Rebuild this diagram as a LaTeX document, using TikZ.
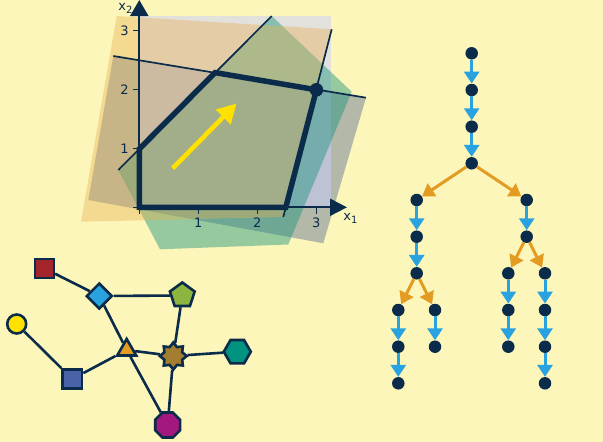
\documentclass[tikz,border=0pt]{standalone}
\usepackage{fontspec}
\setmainfont{DejaVu Sans}
\usetikzlibrary{arrows.meta,shapes.geometric}
\definecolor{bgc}{RGB}{253,246,186}
\definecolor{navy}{RGB}{11,43,74}
\definecolor{lblue}{RGB}{41,163,224}
\definecolor{orng}{RGB}{227,155,34}
\definecolor{yel}{RGB}{255,225,0}
\definecolor{gfill}{RGB}{200,205,255}
\definecolor{ofill}{RGB}{232,176,82}
\definecolor{grfill}{RGB}{30,150,125}
\definecolor{dfill}{RGB}{91,110,150}
\definecolor{cred}{RGB}{163,36,43}
\definecolor{cgreen}{RGB}{139,181,63}
\definecolor{cbrown}{RGB}{163,126,48}
\definecolor{cteal}{RGB}{0,148,128}
\definecolor{cslate}{RGB}{74,98,168}
\definecolor{cmag}{RGB}{162,24,126}
\tikzset{
  gnode/.style={draw=navy, line width=2.6pt, inner sep=0pt},
  gedge/.style={navy, line width=2.6pt},
  tnode/.style={circle, fill=navy, minimum size=12.5pt, inner sep=0pt},
  barrow/.style={lblue, line width=3pt, -{Triangle[length=12pt,width=15pt]}},
  oarrow/.style={orng, line width=3pt, -{Triangle[length=12pt,width=15pt]}},
  thin/.style={navy, line width=1.7pt},
  lbl/.style={text=navy, font=\fontsize{13}{13}\selectfont, inner sep=0pt},
}
\newcommand{\axlbl}[1]{x\raisebox{-3pt}{\fontsize{10}{10}\selectfont #1}}
\begin{document}
\begin{tikzpicture}[x=1pt,y=-1pt]
\fill[bgc] (0,0) rectangle (603,442);
\useasboundingbox (0,0) rectangle (603,442);
% --- LP plot: shaded regions
\fill[dfill, opacity=0.45] (113.3,56) -- (366,97.7) -- (323.3,243.3) -- (88.3,200) -- cycle;
\fill[gfill, opacity=0.5] (139.3,16) rectangle (330.7,207.3);
\fill[grfill, opacity=0.46] (118.3,170) -- (271.7,16) -- (351.7,91.7) -- (288.3,244.5) -- (160,249.3) -- cycle;
\fill[ofill, opacity=0.39] (116.7,16) -- (331.7,29.3) -- (283.3,217) -- (81,221.7) -- cycle;
% constraint lines
\draw[thin] (118.3,170) -- (271.7,16);
\draw[thin] (113.3,56) -- (366,97.7);
\draw[thin] (331.7,29.3) -- (283.3,217);
% axes
\draw[navy, line width=2pt, -{Triangle[length=17pt,width=17pt]}] (139.3,207.3) -- (347,207.3);
\draw[navy, line width=2pt, -{Triangle[length=16pt,width=18pt]}] (139.3,207.3) -- (139.3,0);
\foreach \x in {139.3,198.3,257.3,316.3} {
  \draw[navy, line width=1.6pt] (\x,207.3) -- (\x,213.5);
}
\foreach \y in {207.3,148.3,89.3,30.3} {
  \draw[navy, line width=1.6pt] (133,\y) -- (139.3,\y);
}
\node[lbl] at (198.3,222.5) {1};
\node[lbl] at (257.3,222.5) {2};
\node[lbl] at (316.3,222.5) {3};
\node[lbl] at (124.5,148.5) {1};
\node[lbl] at (124.5,89.5) {2};
\node[lbl] at (124.5,30.5) {3};
\node[lbl] at (350.5,218.5) {\axlbl{1}};
\node[lbl] at (125.5,8) {\axlbl{2}};
% feasible polygon
\draw[navy, line width=5.5pt, line join=miter] (139.3,207.3) -- (285.8,207.3) -- (316.4,89.8) -- (215.1,72.6) -- (139.3,148.9) -- cycle;
\fill[navy] (316.4,89.8) circle (6.8pt);
% objective arrow
\draw[yel, line width=4.6pt, -{Triangle[length=19pt,width=20pt]}] (172.7,168.3) -- (236.5,103.5);
% --- graph
\node[gnode, rectangle, fill=cred, minimum size=19pt] (rs) at (44.3,268.3) {};
\node[gnode, diamond, fill=lblue, minimum size=26pt] (dm) at (99.3,296) {};
\node[gnode, regular polygon, regular polygon sides=5, fill=cgreen, minimum size=26pt] (pg) at (182.3,295.5) {};
\node[gnode, circle, fill=yel, minimum size=19pt] (yc) at (16.7,324) {};
\node[gnode, regular polygon, regular polygon sides=3, fill=orng, minimum size=22pt] (tr) at (126.7,350) {};
\node[gnode, star, star points=8, star point ratio=1.4, fill=cbrown, minimum size=27pt] (st) at (173.3,356) {};
\node[gnode, regular polygon, regular polygon sides=6, fill=cteal, minimum size=27pt] (hx) at (237.3,351.7) {};
\node[gnode, rectangle, fill=cslate, minimum size=19.5pt] (ss) at (72.3,379) {};
\node[gnode, regular polygon, regular polygon sides=8, fill=cmag, minimum size=27pt] (oc) at (167.7,425) {};
\draw[gedge] (rs) -- (dm);
\draw[gedge] (dm) -- (pg);
\draw[gedge] (dm) -- (tr);
\draw[gedge] (pg) -- (st);
\draw[gedge] (yc) -- (ss);
\draw[gedge] (ss) -- (tr);
\draw[gedge] (tr) -- (st);
\draw[gedge] (tr) -- (oc);
\draw[gedge] (st) -- (hx);
\draw[gedge] (st) -- (oc);
% --- tree
\node[tnode] (t0) at (471.7,53.3) {};
\node[tnode] (t1) at (471.7,90) {};
\node[tnode] (t2) at (471.7,126.7) {};
\node[tnode] (t3) at (471.7,163.3) {};
\node[tnode] (l0) at (416.7,200) {};
\node[tnode] (l1) at (416.7,236.7) {};
\node[tnode] (l2) at (416.7,273.3) {};
\node[tnode] (ll0) at (398.3,310) {};
\node[tnode] (ll1) at (398.3,346.7) {};
\node[tnode] (ll2) at (398.3,383.3) {};
\node[tnode] (lr0) at (435,310) {};
\node[tnode] (lr1) at (435,346.7) {};
\node[tnode] (r0) at (526.7,200) {};
\node[tnode] (r1) at (526.7,236.7) {};
\node[tnode] (rl0) at (508.3,273.3) {};
\node[tnode] (rl1) at (508.3,310) {};
\node[tnode] (rl2) at (508.3,346.7) {};
\node[tnode] (rr0) at (545,273.3) {};
\node[tnode] (rr1) at (545,310) {};
\node[tnode] (rr2) at (545,346.7) {};
\node[tnode] (rr3) at (545,383.3) {};
\foreach \a/\b in {t0/t1,t1/t2,t2/t3,l0/l1,l1/l2,ll0/ll1,ll1/ll2,lr0/lr1,r0/r1,rl0/rl1,rl1/rl2,rr0/rr1,rr1/rr2,rr2/rr3}
  \draw[barrow] (\a) -- (\b);
\foreach \a/\b in {t3/l0,t3/r0,l2/ll0,l2/lr0,r1/rl0,r1/rr0}
  \draw[oarrow] (\a) -- (\b);
\end{tikzpicture}
\end{document}
